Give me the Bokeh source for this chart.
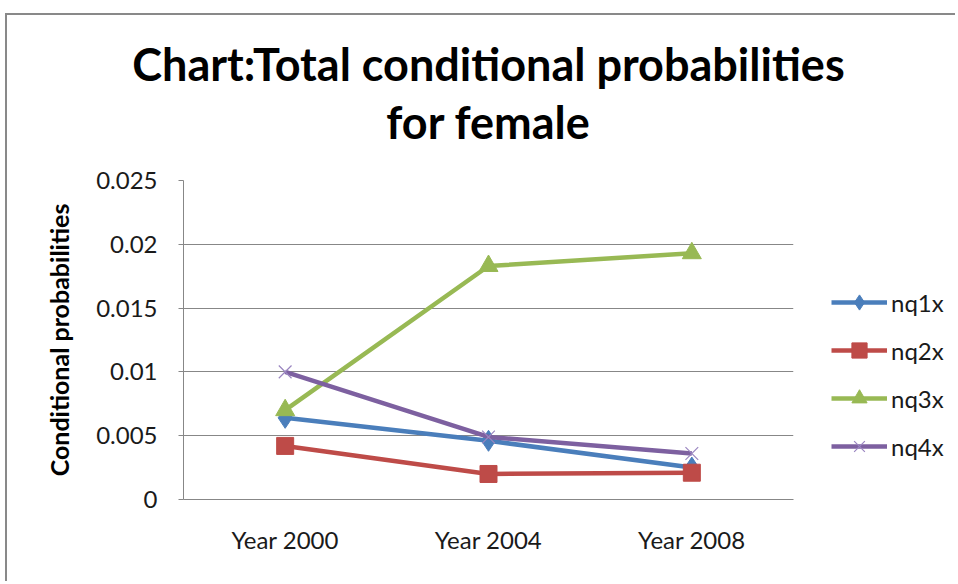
from bokeh.plotting import figure
from bokeh.layouts import row
from bokeh.models import (FactorRange, Range1d, FixedTicker, CustomJSTickFormatter,
                          Legend, LegendItem, Title, InlineStyleSheet)
from bokeh.embed import file_html
from bokeh.resources import INLINE

# ---- data ----
years = ["Year 2000", "Year 2004", "Year 2008"]
nq1x = [0.0064, 0.0046, 0.0025]
nq2x = [0.0042, 0.0020, 0.0021]
nq3x = [0.0070, 0.0183, 0.0193]
nq4x = [0.0100, 0.0049, 0.0036]
series_names = ["nq1x", "nq2x", "nq3x", "nq4x"]
y_ticks = [0, 0.005, 0.01, 0.015, 0.02, 0.025]
title_lines = ["Chart:Total conditional probabilities", "for female"]
y_label = "Conditional probabilities"

colors = ["#4A7EBB", "#BE4B48", "#98B954", "#7D60A0"]
markers = ["diamond", "square", "triangle", "x"]
msizes = [21, 17, 19, 18]
series = [nq1x, nq2x, nq3x, nq4x]

FONT = "Lato"
H = 568
WM = 950      # main chart width
WL = 144      # legend overlay width (right part of the chart)

p = figure(x_range=FactorRange(*years, range_padding=0), y_range=Range1d(0, 0.025),
           width=WM, height=H, output_backend="svg", toolbar_location=None,
           min_border_left=176, min_border_right=164, min_border_top=165, min_border_bottom=84)
p.stylesheets.append(InlineStyleSheet(css=":host { border-left: 2px solid #898989; border-top: 2px solid #898989; margin-top: 13px; margin-left: 5px; }"))

p.outline_line_color = None
p.background_fill_color = "white"
p.border_fill_color = "white"

# grid
p.xgrid.grid_line_color = None
p.ygrid.grid_line_color = "#878787"
p.ygrid.grid_line_width = 1

# y axis
p.yaxis.ticker = FixedTicker(ticks=y_ticks)
p.yaxis.formatter = CustomJSTickFormatter(code="return tick.toString();")
p.yaxis.axis_line_color = "#878787"
p.yaxis.major_tick_line_color = "#878787"
p.yaxis.major_tick_out = 5
p.yaxis.major_tick_in = 0
p.yaxis.minor_tick_line_color = None
p.yaxis.major_label_text_font = FONT
p.yaxis.major_label_text_font_size = "24px"
p.yaxis.major_label_text_color = "#1a1a1a"
p.yaxis.major_label_standoff = 21
p.yaxis.axis_label = y_label
p.yaxis.axis_label_text_font = FONT
p.yaxis.axis_label_text_font_style = "bold"
p.yaxis.axis_label_text_font_size = "25px"
p.yaxis.axis_label_text_color = "#000000"
p.yaxis.axis_label_standoff = 19

# x axis
p.xaxis.axis_line_color = "#878787"
p.xaxis.major_tick_line_color = None
p.xaxis.major_tick_out = 0
p.xaxis.major_tick_in = 0
p.xaxis.minor_tick_line_color = None
p.xaxis.major_label_text_font = FONT
p.xaxis.major_label_text_font_size = "24px"
p.xaxis.major_label_text_color = "#1a1a1a"
p.xaxis.major_label_standoff = 25

def draw(fig, vals, c, m, s):
    r_line = fig.line(years, vals, line_color=c, line_width=4.5)
    if m == "x":
        r_mark = fig.scatter(years, vals, marker=m, size=s, line_color="#9A85C0", line_width=1.2)
    else:
        r_mark = fig.scatter(years, vals, marker=m, size=s, fill_color=c, line_color=c)
    return [r_line, r_mark]

for vals, c, m, s in zip(series, colors, markers, msizes):
    draw(p, vals, c, m, s)

# title: spacer nearest to plot, then line 2, then line 1
p.add_layout(Title(text=" ", text_font_size="2px", standoff=28), "above")
p.add_layout(Title(text=title_lines[1], align="center", text_font=FONT, text_font_style="bold",
                   text_font_size="45px", text_color="#000000", standoff=0), "above")
p.add_layout(Title(text=title_lines[0], align="center", text_font=FONT, text_font_style="bold",
                   text_font_size="45px", text_color="#000000", standoff=3), "above")

# ---- legend overlay (transparent canvas over the right part of the chart) ----
lp = figure(x_range=FactorRange(*years), y_range=Range1d(1, 2),
            width=WL, height=H, output_backend="svg", toolbar_location=None,
            x_axis_location=None, y_axis_location=None,
            min_border_left=0, min_border_right=0, min_border_top=0, min_border_bottom=0)
lp.stylesheets.append(InlineStyleSheet(css=":host { margin-top: 15px; margin-left: -144px; }"))
lp.outline_line_color = None
lp.grid.grid_line_color = None
lp.background_fill_alpha = 0
lp.border_fill_alpha = 0

items = []
for name, vals, c, m, s in zip(series_names, series, colors, markers, msizes):
    items.append(LegendItem(label=name, renderers=draw(lp, vals, c, m, s)))

legend = Legend(items=items, location=(20, 34), orientation="vertical",
                glyph_width=56, glyph_height=38, label_height=20, spacing=10,
                label_text_font=FONT, label_text_font_size="24px", label_text_color="#1a1a1a",
                label_standoff=4, border_line_color=None, background_fill_alpha=0,
                padding=0, margin=0)
lp.add_layout(legend)

layout = row(p, lp)
open("out.html", "w").write(file_html(layout, INLINE))
